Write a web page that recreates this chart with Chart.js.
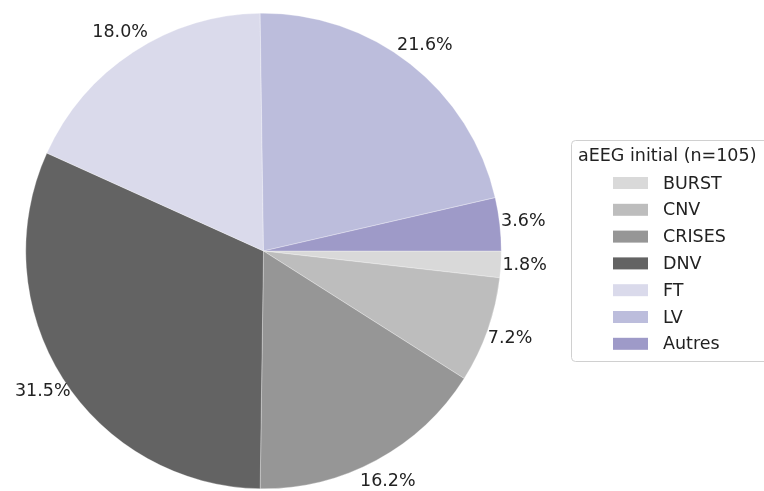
<!DOCTYPE html>
<html>
<head>
<meta charset="utf-8">
<script src="https://cdn.jsdelivr.net/npm/chart.js@4/dist/chart.umd.min.js"></script>
<style>
  html, body { margin: 0; padding: 0; background: #fff; }
  #wrap { width: 764px; height: 491px; }
</style>
</head>
<body>
<div id="wrap"><canvas id="pie"></canvas></div>
<script>
var labels = ["BURST", "CNV", "CRISES", "DNV", "FT", "LV", "Autres"];
var percents = [1.8, 7.2, 16.2, 31.5, 18.0, 21.6, 3.6];
var colors = ["#d9d9d9", "#bdbdbd", "#969696", "#636363", "#dadaeb", "#bcbddc", "#9e9ac8"];
var legendTitle = "aEEG initial (n=105)";

var FONT = "17.5px 'DejaVu Sans'";

// percent labels just outside each slice
var pctLabels = {
  id: "pctLabels",
  afterDatasetsDraw: function (chart) {
    var ctx = chart.ctx;
    var meta = chart.getDatasetMeta(0);
    ctx.save();
    ctx.font = FONT;
    ctx.fillStyle = "#222";
    ctx.textAlign = "center";
    ctx.textBaseline = "middle";
    meta.data.forEach(function (arc, i) {
      var mid = (arc.startAngle + arc.endAngle) / 2;
      var r = arc.outerRadius * 1.1;
      ctx.fillText(percents[i].toFixed(1) + "%", arc.x + r * Math.cos(mid), arc.y + r * Math.sin(mid));
    });
    ctx.restore();
  }
};

// matplotlib-like legend box on the right
var boxLegend = {
  id: "boxLegend",
  afterDraw: function (chart) {
    var ctx = chart.ctx;
    var x = 571.5, y = 140.5, w = 200, h = 221;
    ctx.save();
    ctx.beginPath();
    ctx.roundRect(x, y, w, h, 4);
    ctx.fillStyle = "rgba(255,255,255,0.8)";
    ctx.fill();
    ctx.strokeStyle = "#d0d0d0";
    ctx.lineWidth = 1;
    ctx.stroke();
    ctx.font = FONT;
    ctx.fillStyle = "#222";
    ctx.textBaseline = "middle";
    ctx.fillText(legendTitle, 578, 156);
    labels.forEach(function (lab, i) {
      var cy = 183 + i * 26.8;
      ctx.fillStyle = colors[i];
      ctx.fillRect(613, cy - 6, 35, 12);
      ctx.fillStyle = "#222";
      ctx.fillText(lab, 663, cy + 1);
    });
    ctx.restore();
  }
};

new Chart(document.getElementById("pie"), {
  type: "pie",
  data: {
    labels: labels,
    datasets: [{
      data: percents,
      backgroundColor: colors,
      borderColor: "rgba(255,255,255,0.6)",
      borderWidth: 0.5
    }]
  },
  options: {
    responsive: true,
    maintainAspectRatio: false,
    animation: false,
    rotation: 90,
    layout: { padding: { left: 25, top: 13, right: 262, bottom: 2 } },
    plugins: {
      legend: { display: false },
      tooltip: { enabled: false }
    }
  },
  plugins: [pctLabels, boxLegend]
});
</script>
</body>
</html>
